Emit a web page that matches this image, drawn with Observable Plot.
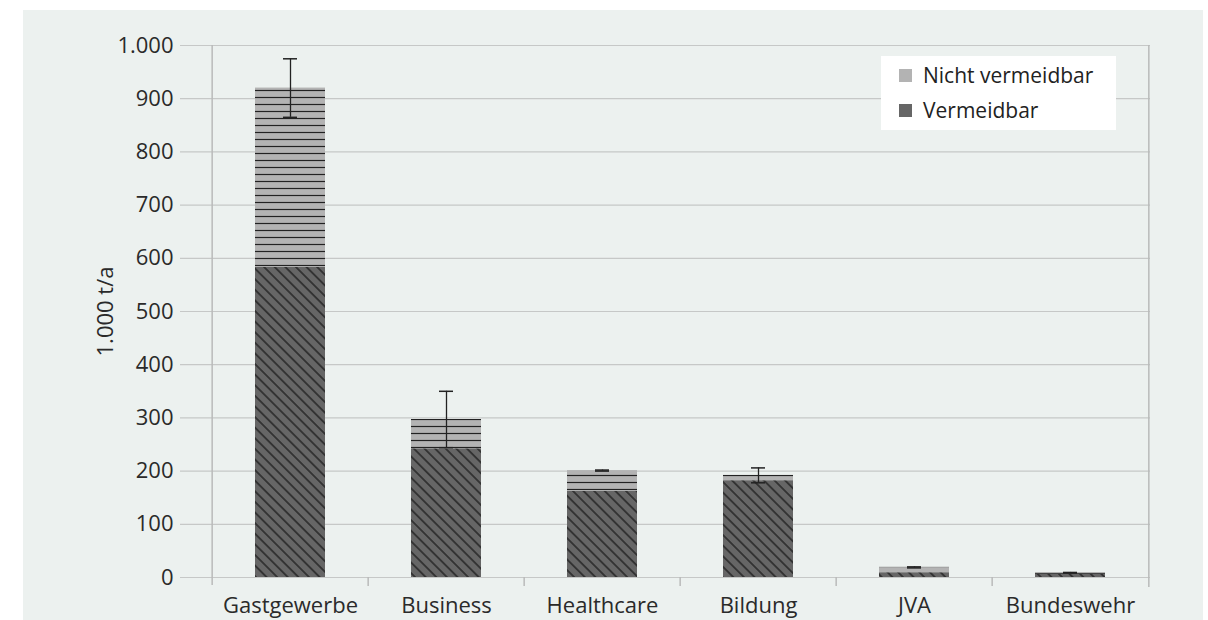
<!DOCTYPE html>
<html>
<head>
<meta charset="utf-8">
<script src="https://cdn.jsdelivr.net/npm/d3@7"></script>
<script src="https://cdn.jsdelivr.net/npm/@observablehq/plot@0.6"></script>
<style>
  body { margin: 0; background: #ffffff; font-family: "Open Sans", sans-serif; }
  #panel { position: absolute; left: 23px; top: 10px; width: 1180px; height: 610px; background: #ecf1ef; overflow: hidden; }
  #chart { position: absolute; left: 0; top: 0; }
  #legend { position: absolute; left: 858px; top: 46px; width: 235px; height: 74px; background: #ffffff; font-size: 21px; color: #222; }
  .item { position: absolute; left: 18px; display: flex; align-items: center; white-space: nowrap; line-height: 29px; }
  .sw { width: 13px; height: 13px; margin-right: 11px; }
</style>
</head>
<body>
<div id="panel">
  <div id="chart"></div>
  <div id="legend"></div>
</div>
<script>
// ---- data ----
const categories = ["Gastgewerbe", "Business", "Healthcare", "Bildung", "JVA", "Bundeswehr"];
const vermeidbar = [583, 242, 162, 182, 9, 6];
const nichtVermeidbar = [337, 55, 39, 10, 10, 3];
const fehler = [55, 53, 1, 14, 1, 0.5];
const yTicks = [0, 100, 200, 300, 400, 500, 600, 700, 800, 900, 1000];
const seriesNames = ["Vermeidbar", "Nicht vermeidbar"];
const legendNames = ["Nicht vermeidbar", "Vermeidbar"];
const legendColors = ["#b3b3b3", "#666666"];
const yLabel = "1.000 t/a";

// ---- derived tables ----
const rows = [];
categories.forEach((c, i) => {
  rows.push({cat: c, typ: "Vermeidbar", v: vermeidbar[i]});
  rows.push({cat: c, typ: "Nicht vermeidbar", v: nichtVermeidbar[i]});
});
const errs = categories.map((c, i) => {
  const t = vermeidbar[i] + nichtVermeidbar[i];
  return {cat: c, lo: t - fehler[i], hi: t + fehler[i]};
});

const W = 1180, H = 610, ML = 187, MR = 53, MT = 35, MB = 43;
const step = (W - ML - MR) / categories.length;
const gridColor = "#c6c8c7";
const axisColor = "#b9bbba";

const chart = Plot.plot({
  width: W, height: H,
  marginLeft: ML, marginRight: MR, marginTop: MT, marginBottom: MB,
  style: {fontFamily: "'Open Sans', sans-serif", fontSize: "22px", color: "#2a2a2a", background: "transparent", overflow: "visible"},
  x: {domain: categories, paddingInner: 0.55, paddingOuter: 0.275, label: null},
  y: {domain: [0, 1000], label: null},
  color: {domain: seriesNames, range: ["url(#hatchV)", "url(#hatchN)"]},
  marks: [
    Plot.ruleY(yTicks, {stroke: gridColor, strokeWidth: 1.2, insetLeft: -30}),
    Plot.ruleX([categories[0]], {x: d => d, y1: 1000, y2: 0, dx: -step / 2, insetBottom: -8, stroke: axisColor, strokeWidth: 1.5}),
    Plot.ruleX([categories[categories.length - 1]], {x: d => d, y1: 1000, y2: 0, dx: step / 2, insetBottom: -10, stroke: axisColor, strokeWidth: 1.5}),
    Plot.ruleX(categories.slice(1), {x: d => d, y1: 0, y2: 0, dx: -step / 2, insetBottom: -9, stroke: axisColor, strokeWidth: 1.5}),
    Plot.barY(rows, Plot.stackY({x: "cat", y: "v", fill: "typ", order: seriesNames})),
    Plot.ruleX(errs, {x: "cat", y1: "lo", y2: "hi", stroke: "#222", strokeWidth: 1.3}),
    Plot.tickY(errs, {x: "cat", y: "lo", stroke: "#222", strokeWidth: 1.5, insetLeft: 28, insetRight: 28}),
    Plot.tickY(errs, {x: "cat", y: "hi", stroke: "#222", strokeWidth: 1.5, insetLeft: 28, insetRight: 28}),
    Plot.axisX({tickSize: 0, tickPadding: 20, label: null}),
    Plot.axisY({ticks: yTicks, tickSize: 0, tickPadding: 37, tickFormat: d => d.toLocaleString("de-DE"),
                label: yLabel, labelAnchor: "center", labelArrow: "none", labelOffset: 113})
  ]
});

// patterns
const svg = d3.select(chart);
const defs = svg.insert("defs", ":first-child");
const pV = defs.append("pattern").attr("id", "hatchV").attr("patternUnits", "userSpaceOnUse")
  .attr("width", 7.5).attr("height", 7.5).attr("patternTransform", "rotate(-45)");
pV.append("rect").attr("width", 7.5).attr("height", 7.5).attr("fill", "#666666");
pV.append("path").attr("d", "M3.75,-1V8.5").attr("stroke", "#1c1c1c").attr("stroke-width", 1.3);
const pN = defs.append("pattern").attr("id", "hatchN").attr("patternUnits", "userSpaceOnUse").attr("width", 8).attr("height", 7);
pN.append("rect").attr("width", 8).attr("height", 7).attr("fill", "#b3b3b3");
pN.append("path").attr("d", "M0,3.5H8").attr("stroke", "#222222").attr("stroke-width", 1.2);

document.getElementById("chart").appendChild(chart);

// legend
const lg = document.getElementById("legend");
legendNames.forEach((n, i) => {
  const it = document.createElement("div");
  it.className = "item";
  it.style.top = (i === 0 ? 5 : 40) + "px";
  const sw = document.createElement("div");
  sw.className = "sw";
  sw.style.background = legendColors[i];
  const tx = document.createElement("span");
  tx.textContent = n;
  it.appendChild(sw); it.appendChild(tx);
  lg.appendChild(it);
});
</script>
</body>
</html>
